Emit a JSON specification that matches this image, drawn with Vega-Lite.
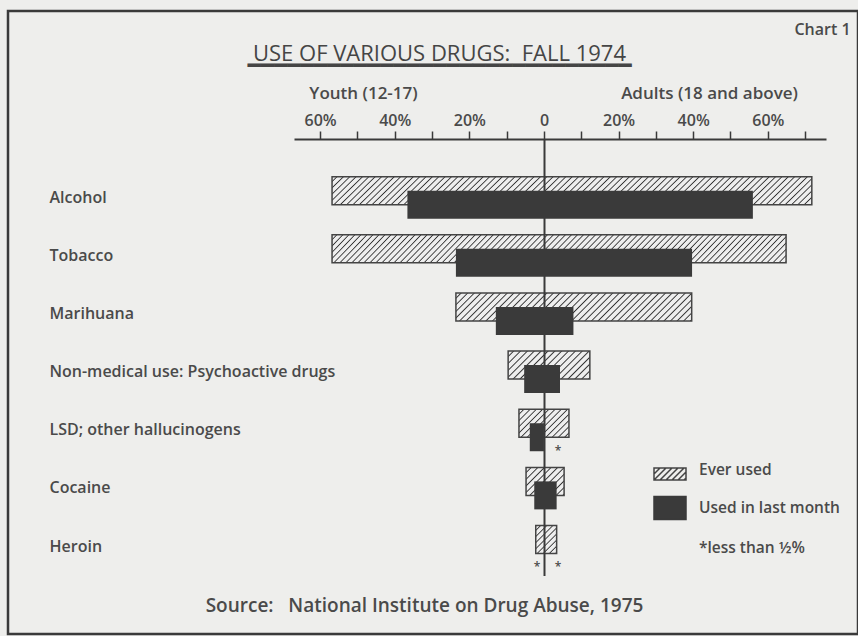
{
"$schema":"https://vega.github.io/schema/vega-lite/v6.json",
"width":850,"height":623,
"autosize":{"type":"none"},
"padding":{"left":8,"top":11,"right":0,"bottom":2},
"background":"#eeeeec",
"config":{"view":{"stroke":"#3a3a3a","strokeWidth":2.5}},
"data":{"values":[
{"drug":"Alcohol","measure":"Ever used","youth":-56.8,"adult":71.8},
{"drug":"Alcohol","measure":"Used in last month","youth":-36.6,"adult":56.0},
{"drug":"Tobacco","measure":"Ever used","youth":-56.8,"adult":64.9},
{"drug":"Tobacco","measure":"Used in last month","youth":-23.6,"adult":39.7},
{"drug":"Marihuana","measure":"Ever used","youth":-23.6,"adult":39.6},
{"drug":"Marihuana","measure":"Used in last month","youth":-12.9,"adult":7.9},
{"drug":"Non-medical use: Psychoactive drugs","measure":"Ever used","youth":-9.6,"adult":12.3},
{"drug":"Non-medical use: Psychoactive drugs","measure":"Used in last month","youth":-5.3,"adult":4.3},
{"drug":"LSD; other hallucinogens","measure":"Ever used","youth":-6.7,"adult":6.7},
{"drug":"LSD; other hallucinogens","measure":"Used in last month","youth":-3.8,"adult":0,"adult_lt_half":true},
{"drug":"Cocaine","measure":"Ever used","youth":-4.8,"adult":5.4},
{"drug":"Cocaine","measure":"Used in last month","youth":-2.6,"adult":3.4},
{"drug":"Heroin","measure":"Ever used","youth":-2.2,"adult":3.4},
{"drug":"Heroin","measure":"Used in last month","youth":0,"adult":0,"youth_lt_half":true,"adult_lt_half":true}
]},
"resolve":{"axis":{"x":"independent","y":"independent"}},
"layer":[
{
"transform":[{"filter":"datum.measure === 'Ever used'"}],
"mark":{"type":"bar","height":28,"yOffset":-7,"stroke":"#444","strokeWidth":1.5},
"encoding":{
"y":{"field":"drug","type":"nominal","sort":null,
"scale":{"domain":["Alcohol","Tobacco","Marihuana","Non-medical use: Psychoactive drugs","LSD; other hallucinogens","Cocaine","Heroin"],"range":[128,564.6],"paddingInner":0,"paddingOuter":0.2545,"align":1},
"axis":{"orient":"left","offset":-41,"domain":false,"ticks":false,"tickSize":0,"labelPadding":0,"labelAlign":"left","labelBaseline":"middle","labelFont":"Open Sans","labelFontSize":16,"labelFontWeight":600,"labelColor":"#4a4a4a","labelLimit":0,"grid":false,"title":null}},
"x":{"field":"youth","type":"quantitative",
"scale":{"domain":[-67,75.6],"range":[286,818],"zero":false,"nice":false},
"axis":{"orient":"top","offset":-128,"values":[-60,-50,-40,-30,-20,-10,0,10,20,30,40,50,60,70],
"labelExpr":"datum.value == 0 ? '0' : (datum.value % 20 == 0 ? abs(datum.value) + '%' : '')",
"labelFlush":false,"labelOverlap":false,"labelBound":false,"grid":false,
"domainColor":"#3a3a3a","domainWidth":2,"tickColor":"#3a3a3a","tickWidth":1.5,"tickSize":8,
"labelPadding":6,"labelBaseline":"alphabetic","labelFont":"Open Sans","labelFontSize":16,"labelFontWeight":600,"labelColor":"#4a4a4a",
"title":"Youth (12-17)","titleX":355,"titleY":-41,"titleAlign":"center","titleBaseline":"alphabetic","titleAngle":0,"titleFont":"Open Sans","titleFontSize":17,"titleFontWeight":600,"titleColor":"#4a4a4a"}},
"x2":{"field":"adult"},
"fill":{"condition":[
{"test":"datum.drug === 'Alcohol' || datum.drug === 'Tobacco'","value":{"gradient":"linear","x1":0,"y1":0,"x2":1.056,"y2":0.063,"stops":[
{"offset":0.0075,"color":"#eee"},{"offset":0.01,"color":"#333"},{"offset":0.0125,"color":"#eee"},{"offset":0.02,"color":"#eee"},{"offset":0.0225,"color":"#333"},{"offset":0.025,"color":"#eee"},{"offset":0.0325,"color":"#eee"},{"offset":0.035,"color":"#333"},{"offset":0.0375,"color":"#eee"},{"offset":0.045,"color":"#eee"},{"offset":0.0475,"color":"#333"},{"offset":0.05,"color":"#eee"},{"offset":0.0575,"color":"#eee"},{"offset":0.06,"color":"#333"},{"offset":0.0625,"color":"#eee"},{"offset":0.07,"color":"#eee"},{"offset":0.0725,"color":"#333"},{"offset":0.075,"color":"#eee"},{"offset":0.0825,"color":"#eee"},{"offset":0.085,"color":"#333"},{"offset":0.0875,"color":"#eee"},{"offset":0.095,"color":"#eee"},{"offset":0.0975,"color":"#333"},{"offset":0.1,"color":"#eee"},
{"offset":0.1075,"color":"#eee"},{"offset":0.11,"color":"#333"},{"offset":0.1125,"color":"#eee"},{"offset":0.12,"color":"#eee"},{"offset":0.1225,"color":"#333"},{"offset":0.125,"color":"#eee"},{"offset":0.1325,"color":"#eee"},{"offset":0.135,"color":"#333"},{"offset":0.1375,"color":"#eee"},{"offset":0.145,"color":"#eee"},{"offset":0.1475,"color":"#333"},{"offset":0.15,"color":"#eee"},{"offset":0.1575,"color":"#eee"},{"offset":0.16,"color":"#333"},{"offset":0.1625,"color":"#eee"},{"offset":0.17,"color":"#eee"},{"offset":0.1725,"color":"#333"},{"offset":0.175,"color":"#eee"},{"offset":0.1825,"color":"#eee"},{"offset":0.185,"color":"#333"},{"offset":0.1875,"color":"#eee"},{"offset":0.195,"color":"#eee"},{"offset":0.1975,"color":"#333"},{"offset":0.2,"color":"#eee"},
{"offset":0.2075,"color":"#eee"},{"offset":0.21,"color":"#333"},{"offset":0.2125,"color":"#eee"},{"offset":0.22,"color":"#eee"},{"offset":0.2225,"color":"#333"},{"offset":0.225,"color":"#eee"},{"offset":0.2325,"color":"#eee"},{"offset":0.235,"color":"#333"},{"offset":0.2375,"color":"#eee"},{"offset":0.245,"color":"#eee"},{"offset":0.2475,"color":"#333"},{"offset":0.25,"color":"#eee"},{"offset":0.2575,"color":"#eee"},{"offset":0.26,"color":"#333"},{"offset":0.2625,"color":"#eee"},{"offset":0.27,"color":"#eee"},{"offset":0.2725,"color":"#333"},{"offset":0.275,"color":"#eee"},{"offset":0.2825,"color":"#eee"},{"offset":0.285,"color":"#333"},{"offset":0.2875,"color":"#eee"},{"offset":0.295,"color":"#eee"},{"offset":0.2975,"color":"#333"},{"offset":0.3,"color":"#eee"},
{"offset":0.3075,"color":"#eee"},{"offset":0.31,"color":"#333"},{"offset":0.3125,"color":"#eee"},{"offset":0.32,"color":"#eee"},{"offset":0.3225,"color":"#333"},{"offset":0.325,"color":"#eee"},{"offset":0.3325,"color":"#eee"},{"offset":0.335,"color":"#333"},{"offset":0.3375,"color":"#eee"},{"offset":0.345,"color":"#eee"},{"offset":0.3475,"color":"#333"},{"offset":0.35,"color":"#eee"},{"offset":0.3575,"color":"#eee"},{"offset":0.36,"color":"#333"},{"offset":0.3625,"color":"#eee"},{"offset":0.37,"color":"#eee"},{"offset":0.3725,"color":"#333"},{"offset":0.375,"color":"#eee"},{"offset":0.3825,"color":"#eee"},{"offset":0.385,"color":"#333"},{"offset":0.3875,"color":"#eee"},{"offset":0.395,"color":"#eee"},{"offset":0.3975,"color":"#333"},{"offset":0.4,"color":"#eee"},
{"offset":0.4075,"color":"#eee"},{"offset":0.41,"color":"#333"},{"offset":0.4125,"color":"#eee"},{"offset":0.42,"color":"#eee"},{"offset":0.4225,"color":"#333"},{"offset":0.425,"color":"#eee"},{"offset":0.4325,"color":"#eee"},{"offset":0.435,"color":"#333"},{"offset":0.4375,"color":"#eee"},{"offset":0.445,"color":"#eee"},{"offset":0.4475,"color":"#333"},{"offset":0.45,"color":"#eee"},{"offset":0.4575,"color":"#eee"},{"offset":0.46,"color":"#333"},{"offset":0.4625,"color":"#eee"},{"offset":0.47,"color":"#eee"},{"offset":0.4725,"color":"#333"},{"offset":0.475,"color":"#eee"},{"offset":0.4825,"color":"#eee"},{"offset":0.485,"color":"#333"},{"offset":0.4875,"color":"#eee"},{"offset":0.495,"color":"#eee"},{"offset":0.4975,"color":"#333"},{"offset":0.5,"color":"#eee"},
{"offset":0.5075,"color":"#eee"},{"offset":0.51,"color":"#333"},{"offset":0.5125,"color":"#eee"},{"offset":0.52,"color":"#eee"},{"offset":0.5225,"color":"#333"},{"offset":0.525,"color":"#eee"},{"offset":0.5325,"color":"#eee"},{"offset":0.535,"color":"#333"},{"offset":0.5375,"color":"#eee"},{"offset":0.545,"color":"#eee"},{"offset":0.5475,"color":"#333"},{"offset":0.55,"color":"#eee"},{"offset":0.5575,"color":"#eee"},{"offset":0.56,"color":"#333"},{"offset":0.5625,"color":"#eee"},{"offset":0.57,"color":"#eee"},{"offset":0.5725,"color":"#333"},{"offset":0.575,"color":"#eee"},{"offset":0.5825,"color":"#eee"},{"offset":0.585,"color":"#333"},{"offset":0.5875,"color":"#eee"},{"offset":0.595,"color":"#eee"},{"offset":0.5975,"color":"#333"},{"offset":0.6,"color":"#eee"},
{"offset":0.6075,"color":"#eee"},{"offset":0.61,"color":"#333"},{"offset":0.6125,"color":"#eee"},{"offset":0.62,"color":"#eee"},{"offset":0.6225,"color":"#333"},{"offset":0.625,"color":"#eee"},{"offset":0.6325,"color":"#eee"},{"offset":0.635,"color":"#333"},{"offset":0.6375,"color":"#eee"},{"offset":0.645,"color":"#eee"},{"offset":0.6475,"color":"#333"},{"offset":0.65,"color":"#eee"},{"offset":0.6575,"color":"#eee"},{"offset":0.66,"color":"#333"},{"offset":0.6625,"color":"#eee"},{"offset":0.67,"color":"#eee"},{"offset":0.6725,"color":"#333"},{"offset":0.675,"color":"#eee"},{"offset":0.6825,"color":"#eee"},{"offset":0.685,"color":"#333"},{"offset":0.6875,"color":"#eee"},{"offset":0.695,"color":"#eee"},{"offset":0.6975,"color":"#333"},{"offset":0.7,"color":"#eee"},
{"offset":0.7075,"color":"#eee"},{"offset":0.71,"color":"#333"},{"offset":0.7125,"color":"#eee"},{"offset":0.72,"color":"#eee"},{"offset":0.7225,"color":"#333"},{"offset":0.725,"color":"#eee"},{"offset":0.7325,"color":"#eee"},{"offset":0.735,"color":"#333"},{"offset":0.7375,"color":"#eee"},{"offset":0.745,"color":"#eee"},{"offset":0.7475,"color":"#333"},{"offset":0.75,"color":"#eee"},{"offset":0.7575,"color":"#eee"},{"offset":0.76,"color":"#333"},{"offset":0.7625,"color":"#eee"},{"offset":0.77,"color":"#eee"},{"offset":0.7725,"color":"#333"},{"offset":0.775,"color":"#eee"},{"offset":0.7825,"color":"#eee"},{"offset":0.785,"color":"#333"},{"offset":0.7875,"color":"#eee"},{"offset":0.795,"color":"#eee"},{"offset":0.7975,"color":"#333"},{"offset":0.8,"color":"#eee"},
{"offset":0.8075,"color":"#eee"},{"offset":0.81,"color":"#333"},{"offset":0.8125,"color":"#eee"},{"offset":0.82,"color":"#eee"},{"offset":0.8225,"color":"#333"},{"offset":0.825,"color":"#eee"},{"offset":0.8325,"color":"#eee"},{"offset":0.835,"color":"#333"},{"offset":0.8375,"color":"#eee"},{"offset":0.845,"color":"#eee"},{"offset":0.8475,"color":"#333"},{"offset":0.85,"color":"#eee"},{"offset":0.8575,"color":"#eee"},{"offset":0.86,"color":"#333"},{"offset":0.8625,"color":"#eee"},{"offset":0.87,"color":"#eee"},{"offset":0.8725,"color":"#333"},{"offset":0.875,"color":"#eee"},{"offset":0.8825,"color":"#eee"},{"offset":0.885,"color":"#333"},{"offset":0.8875,"color":"#eee"},{"offset":0.895,"color":"#eee"},{"offset":0.8975,"color":"#333"},{"offset":0.9,"color":"#eee"},
{"offset":0.9075,"color":"#eee"},{"offset":0.91,"color":"#333"},{"offset":0.9125,"color":"#eee"},{"offset":0.92,"color":"#eee"},{"offset":0.9225,"color":"#333"},{"offset":0.925,"color":"#eee"},{"offset":0.9325,"color":"#eee"},{"offset":0.935,"color":"#333"},{"offset":0.9375,"color":"#eee"},{"offset":0.945,"color":"#eee"},{"offset":0.9475,"color":"#333"},{"offset":0.95,"color":"#eee"},{"offset":0.9575,"color":"#eee"},{"offset":0.96,"color":"#333"},{"offset":0.9625,"color":"#eee"},{"offset":0.97,"color":"#eee"},{"offset":0.9725,"color":"#333"},{"offset":0.975,"color":"#eee"},{"offset":0.9825,"color":"#eee"},{"offset":0.985,"color":"#333"},{"offset":0.9875,"color":"#eee"},{"offset":0.995,"color":"#eee"},{"offset":0.9975,"color":"#333"},{"offset":1,"color":"#eee"}
]}},
{"test":"datum.drug === 'Marihuana'","value":{"gradient":"linear","x1":0,"y1":0,"x2":1.103,"y2":0.131,"stops":[
{"offset":0.015,"color":"#eee"},{"offset":0.02,"color":"#333"},{"offset":0.025,"color":"#eee"},{"offset":0.04,"color":"#eee"},{"offset":0.045,"color":"#333"},{"offset":0.05,"color":"#eee"},{"offset":0.065,"color":"#eee"},{"offset":0.07,"color":"#333"},{"offset":0.075,"color":"#eee"},{"offset":0.09,"color":"#eee"},{"offset":0.095,"color":"#333"},{"offset":0.1,"color":"#eee"},
{"offset":0.115,"color":"#eee"},{"offset":0.12,"color":"#333"},{"offset":0.125,"color":"#eee"},{"offset":0.14,"color":"#eee"},{"offset":0.145,"color":"#333"},{"offset":0.15,"color":"#eee"},{"offset":0.165,"color":"#eee"},{"offset":0.17,"color":"#333"},{"offset":0.175,"color":"#eee"},{"offset":0.19,"color":"#eee"},{"offset":0.195,"color":"#333"},{"offset":0.2,"color":"#eee"},
{"offset":0.215,"color":"#eee"},{"offset":0.22,"color":"#333"},{"offset":0.225,"color":"#eee"},{"offset":0.24,"color":"#eee"},{"offset":0.245,"color":"#333"},{"offset":0.25,"color":"#eee"},{"offset":0.265,"color":"#eee"},{"offset":0.27,"color":"#333"},{"offset":0.275,"color":"#eee"},{"offset":0.29,"color":"#eee"},{"offset":0.295,"color":"#333"},{"offset":0.3,"color":"#eee"},
{"offset":0.315,"color":"#eee"},{"offset":0.32,"color":"#333"},{"offset":0.325,"color":"#eee"},{"offset":0.34,"color":"#eee"},{"offset":0.345,"color":"#333"},{"offset":0.35,"color":"#eee"},{"offset":0.365,"color":"#eee"},{"offset":0.37,"color":"#333"},{"offset":0.375,"color":"#eee"},{"offset":0.39,"color":"#eee"},{"offset":0.395,"color":"#333"},{"offset":0.4,"color":"#eee"},
{"offset":0.415,"color":"#eee"},{"offset":0.42,"color":"#333"},{"offset":0.425,"color":"#eee"},{"offset":0.44,"color":"#eee"},{"offset":0.445,"color":"#333"},{"offset":0.45,"color":"#eee"},{"offset":0.465,"color":"#eee"},{"offset":0.47,"color":"#333"},{"offset":0.475,"color":"#eee"},{"offset":0.49,"color":"#eee"},{"offset":0.495,"color":"#333"},{"offset":0.5,"color":"#eee"},
{"offset":0.515,"color":"#eee"},{"offset":0.52,"color":"#333"},{"offset":0.525,"color":"#eee"},{"offset":0.54,"color":"#eee"},{"offset":0.545,"color":"#333"},{"offset":0.55,"color":"#eee"},{"offset":0.565,"color":"#eee"},{"offset":0.57,"color":"#333"},{"offset":0.575,"color":"#eee"},{"offset":0.59,"color":"#eee"},{"offset":0.595,"color":"#333"},{"offset":0.6,"color":"#eee"},
{"offset":0.615,"color":"#eee"},{"offset":0.62,"color":"#333"},{"offset":0.625,"color":"#eee"},{"offset":0.64,"color":"#eee"},{"offset":0.645,"color":"#333"},{"offset":0.65,"color":"#eee"},{"offset":0.665,"color":"#eee"},{"offset":0.67,"color":"#333"},{"offset":0.675,"color":"#eee"},{"offset":0.69,"color":"#eee"},{"offset":0.695,"color":"#333"},{"offset":0.7,"color":"#eee"},
{"offset":0.715,"color":"#eee"},{"offset":0.72,"color":"#333"},{"offset":0.725,"color":"#eee"},{"offset":0.74,"color":"#eee"},{"offset":0.745,"color":"#333"},{"offset":0.75,"color":"#eee"},{"offset":0.765,"color":"#eee"},{"offset":0.77,"color":"#333"},{"offset":0.775,"color":"#eee"},{"offset":0.79,"color":"#eee"},{"offset":0.795,"color":"#333"},{"offset":0.8,"color":"#eee"},
{"offset":0.815,"color":"#eee"},{"offset":0.82,"color":"#333"},{"offset":0.825,"color":"#eee"},{"offset":0.84,"color":"#eee"},{"offset":0.845,"color":"#333"},{"offset":0.85,"color":"#eee"},{"offset":0.865,"color":"#eee"},{"offset":0.87,"color":"#333"},{"offset":0.875,"color":"#eee"},{"offset":0.89,"color":"#eee"},{"offset":0.895,"color":"#333"},{"offset":0.9,"color":"#eee"},
{"offset":0.915,"color":"#eee"},{"offset":0.92,"color":"#333"},{"offset":0.925,"color":"#eee"},{"offset":0.94,"color":"#eee"},{"offset":0.945,"color":"#333"},{"offset":0.95,"color":"#eee"},{"offset":0.965,"color":"#eee"},{"offset":0.97,"color":"#333"},{"offset":0.975,"color":"#eee"},{"offset":0.99,"color":"#eee"},{"offset":0.995,"color":"#333"},{"offset":1,"color":"#eee"}
]}},
{"test":"datum.drug === 'Non-medical use: Psychoactive drugs'","value":{"gradient":"linear","x1":0,"y1":0,"x2":1.202,"y2":0.412,"stops":[
{"offset":0.0375,"color":"#eee"},{"offset":0.05,"color":"#333"},{"offset":0.0625,"color":"#eee"},{"offset":0.1,"color":"#eee"},{"offset":0.1125,"color":"#333"},{"offset":0.125,"color":"#eee"},{"offset":0.1625,"color":"#eee"},{"offset":0.175,"color":"#333"},{"offset":0.1875,"color":"#eee"},{"offset":0.225,"color":"#eee"},{"offset":0.2375,"color":"#333"},{"offset":0.25,"color":"#eee"},{"offset":0.2875,"color":"#eee"},{"offset":0.3,"color":"#333"},{"offset":0.3125,"color":"#eee"},{"offset":0.35,"color":"#eee"},{"offset":0.3625,"color":"#333"},{"offset":0.375,"color":"#eee"},{"offset":0.4125,"color":"#eee"},{"offset":0.425,"color":"#333"},{"offset":0.4375,"color":"#eee"},{"offset":0.475,"color":"#eee"},{"offset":0.4875,"color":"#333"},{"offset":0.5,"color":"#eee"},
{"offset":0.5375,"color":"#eee"},{"offset":0.55,"color":"#333"},{"offset":0.5625,"color":"#eee"},{"offset":0.6,"color":"#eee"},{"offset":0.6125,"color":"#333"},{"offset":0.625,"color":"#eee"},{"offset":0.6625,"color":"#eee"},{"offset":0.675,"color":"#333"},{"offset":0.6875,"color":"#eee"},{"offset":0.725,"color":"#eee"},{"offset":0.7375,"color":"#333"},{"offset":0.75,"color":"#eee"},{"offset":0.7875,"color":"#eee"},{"offset":0.8,"color":"#333"},{"offset":0.8125,"color":"#eee"},{"offset":0.85,"color":"#eee"},{"offset":0.8625,"color":"#333"},{"offset":0.875,"color":"#eee"},{"offset":0.9125,"color":"#eee"},{"offset":0.925,"color":"#333"},{"offset":0.9375,"color":"#eee"},{"offset":0.975,"color":"#eee"},{"offset":0.9875,"color":"#333"},{"offset":1,"color":"#eee"}
]}},
{"test":"datum.drug === 'LSD; other hallucinogens'","value":{"gradient":"linear","x1":0,"y1":0,"x2":1.188,"y2":0.665,"stops":[
{"offset":0.048,"color":"#eee"},{"offset":0.064,"color":"#333"},{"offset":0.08,"color":"#eee"},{"offset":0.128,"color":"#eee"},{"offset":0.144,"color":"#333"},{"offset":0.16,"color":"#eee"},{"offset":0.208,"color":"#eee"},{"offset":0.224,"color":"#333"},{"offset":0.24,"color":"#eee"},{"offset":0.288,"color":"#eee"},{"offset":0.304,"color":"#333"},{"offset":0.32,"color":"#eee"},{"offset":0.368,"color":"#eee"},{"offset":0.384,"color":"#333"},{"offset":0.4,"color":"#eee"},{"offset":0.448,"color":"#eee"},{"offset":0.464,"color":"#333"},{"offset":0.48,"color":"#eee"},{"offset":0.528,"color":"#eee"},{"offset":0.544,"color":"#333"},{"offset":0.56,"color":"#eee"},{"offset":0.608,"color":"#eee"},{"offset":0.624,"color":"#333"},{"offset":0.64,"color":"#eee"},{"offset":0.688,"color":"#eee"},{"offset":0.704,"color":"#333"},{"offset":0.72,"color":"#eee"},{"offset":0.768,"color":"#eee"},{"offset":0.784,"color":"#333"},{"offset":0.8,"color":"#eee"},{"offset":0.848,"color":"#eee"},{"offset":0.864,"color":"#333"},{"offset":0.88,"color":"#eee"},{"offset":0.928,"color":"#eee"},{"offset":0.944,"color":"#333"},{"offset":0.96,"color":"#eee"}
]}},
{"test":"datum.drug === 'Cocaine'","value":{"gradient":"linear","x1":0,"y1":0,"x2":1.127,"y2":0.828,"stops":[
{"offset":0.06,"color":"#eee"},{"offset":0.08,"color":"#333"},{"offset":0.1,"color":"#eee"},{"offset":0.16,"color":"#eee"},{"offset":0.18,"color":"#333"},{"offset":0.2,"color":"#eee"},{"offset":0.26,"color":"#eee"},{"offset":0.28,"color":"#333"},{"offset":0.3,"color":"#eee"},{"offset":0.36,"color":"#eee"},{"offset":0.38,"color":"#333"},{"offset":0.4,"color":"#eee"},{"offset":0.46,"color":"#eee"},{"offset":0.48,"color":"#333"},{"offset":0.5,"color":"#eee"},{"offset":0.56,"color":"#eee"},{"offset":0.58,"color":"#333"},{"offset":0.6,"color":"#eee"},{"offset":0.66,"color":"#eee"},{"offset":0.68,"color":"#333"},{"offset":0.7,"color":"#eee"},{"offset":0.76,"color":"#eee"},{"offset":0.78,"color":"#333"},{"offset":0.8,"color":"#eee"},{"offset":0.86,"color":"#eee"},{"offset":0.88,"color":"#333"},{"offset":0.9,"color":"#eee"},{"offset":0.96,"color":"#eee"},{"offset":0.98,"color":"#333"},{"offset":1,"color":"#eee"}
]}}
],
"value":{"gradient":"linear","x1":0,"y1":0,"x2":0.837,"y2":1.122,"stops":[
{"offset":0.075,"color":"#eee"},{"offset":0.1,"color":"#333"},{"offset":0.125,"color":"#eee"},{"offset":0.2,"color":"#eee"},{"offset":0.225,"color":"#333"},{"offset":0.25,"color":"#eee"},{"offset":0.325,"color":"#eee"},{"offset":0.35,"color":"#333"},{"offset":0.375,"color":"#eee"},{"offset":0.45,"color":"#eee"},{"offset":0.475,"color":"#333"},{"offset":0.5,"color":"#eee"},{"offset":0.575,"color":"#eee"},{"offset":0.6,"color":"#333"},{"offset":0.625,"color":"#eee"},{"offset":0.7,"color":"#eee"},{"offset":0.725,"color":"#333"},{"offset":0.75,"color":"#eee"},{"offset":0.825,"color":"#eee"},{"offset":0.85,"color":"#333"},{"offset":0.875,"color":"#eee"},{"offset":0.95,"color":"#eee"},{"offset":0.975,"color":"#333"},{"offset":1,"color":"#eee"}
]}}
}
},
{
"transform":[{"filter":"datum.measure === 'Used in last month'"}],
"mark":{"type":"bar","height":28,"yOffset":7,"strokeWidth":0},
"encoding":{
"y":{"field":"drug","type":"nominal","sort":null,
"axis":{"orient":"left","offset":-536,"domain":true,"domainColor":"#3a3a3a","domainWidth":2,"ticks":false,"labels":false,"grid":false,"title":null,"zindex":1}},
"x":{"field":"youth","type":"quantitative",
"axis":{"orient":"top","offset":-128,"domain":false,"ticks":false,"labels":false,"grid":false,
"title":"Adults (18 and above)","titleX":701,"titleY":-41,"titleAlign":"center","titleBaseline":"alphabetic","titleAngle":0,"titleFont":"Open Sans","titleFontSize":17,"titleFontWeight":600,"titleColor":"#4a4a4a"}},
"x2":{"field":"adult"},
"fill":{"field":"measure","type":"nominal",
"scale":{"domain":["Ever used","Used in last month","*less than ½%"],"range":["#eeeeec","#3a3a3a","transparent"]},
"legend":{"orient":"none","legendX":645,"legendY":442,"title":null,"padding":0,
"symbolSize":1024,"symbolStrokeWidth":1.5,"labelFont":"Open Sans","labelFontSize":15.5,"labelFontWeight":600,"labelColor":"#4a4a4a","labelOffset":12,"rowPadding":8,"labelLimit":0,
"encode":{"symbols":{"update":{
"shape":{"signal":"datum.value === 'Ever used' ? 'M-1,-0.125H1V0.625H-1Z M-1,0.25L-0.625,-0.125 M-1,0.625L-0.25,-0.125 M-0.625,0.625L0.125,-0.125 M-0.25,0.625L0.5,-0.125 M0.125,0.625L0.875,-0.125 M0.5,0.625L1,0.125 M0.875,0.625L1,0.5' : 'M-1,-0.72H1V0.72H-1Z'"},
"fill":{"signal":"datum.value === 'Ever used' ? '#eeeeec' : (datum.value === 'Used in last month' ? '#3a3a3a' : 'transparent')"},
"stroke":{"signal":"datum.value === 'Ever used' ? '#444' : (datum.value === 'Used in last month' ? '#3a3a3a' : 'transparent')"},
"strokeWidth":{"value":1.5},
"opacity":{"value":1}
}}}}}
}
},
{
"transform":[{"filter":"datum.youth_lt_half === true"}],
"mark":{"type":"text","text":"*","dx":-7,"yOffset":20.5,"fontSize":12,"font":"Open Sans","fontWeight":600,"color":"#4a4a4a"},
"encoding":{
"y":{"field":"drug","type":"nominal","sort":null,
"axis":{"orient":"right","domain":false,"ticks":false,"labels":false,"grid":false,
"title":"Chart 1","titleAngle":0,"titleX":-36,"titleY":23,"titleAlign":"center","titleBaseline":"alphabetic","titleFont":"Open Sans","titleFontSize":16,"titleFontWeight":600,"titleColor":"#4a4a4a"}},
"x":{"datum":0,"type":"quantitative",
"axis":{"orient":"bottom","domain":false,"ticks":false,"labels":false,"grid":false,
"title":"Source:\u00a0\u00a0 National Institute on Drug Abuse, 1975","titleX":416,"titleY":-23,"titleAlign":"center","titleBaseline":"alphabetic","titleAngle":0,"titleFont":"Open Sans","titleFontSize":19,"titleFontWeight":600,"titleColor":"#4a4a4a"}}
}
},
{
"transform":[{"filter":"datum.adult_lt_half === true"}],
"mark":{"type":"text","text":"*","dx":14,"yOffset":20.5,"fontSize":12,"font":"Open Sans","fontWeight":600,"color":"#4a4a4a"},
"encoding":{
"y":{"field":"drug","type":"nominal","sort":null,"axis":null},
"x":{"datum":0,"type":"quantitative",
"axis":{"orient":"top","domain":false,"ticks":false,"labels":false,"grid":false,
"title":["USE OF VARIOUS DRUGS:\u00a0 FALL 1974","━━━━━━━━━━━━━━━━━━━━━━━━━━━━━"],"titleX":431,"titleY":49,"titleAlign":"center","titleBaseline":"alphabetic","titleAngle":0,"titleFont":"Open Sans, DejaVu Sans","titleFontSize":22,"titleFontWeight":"normal","titleColor":"#454545","titleLineHeight":12}}
}
}
]
}
